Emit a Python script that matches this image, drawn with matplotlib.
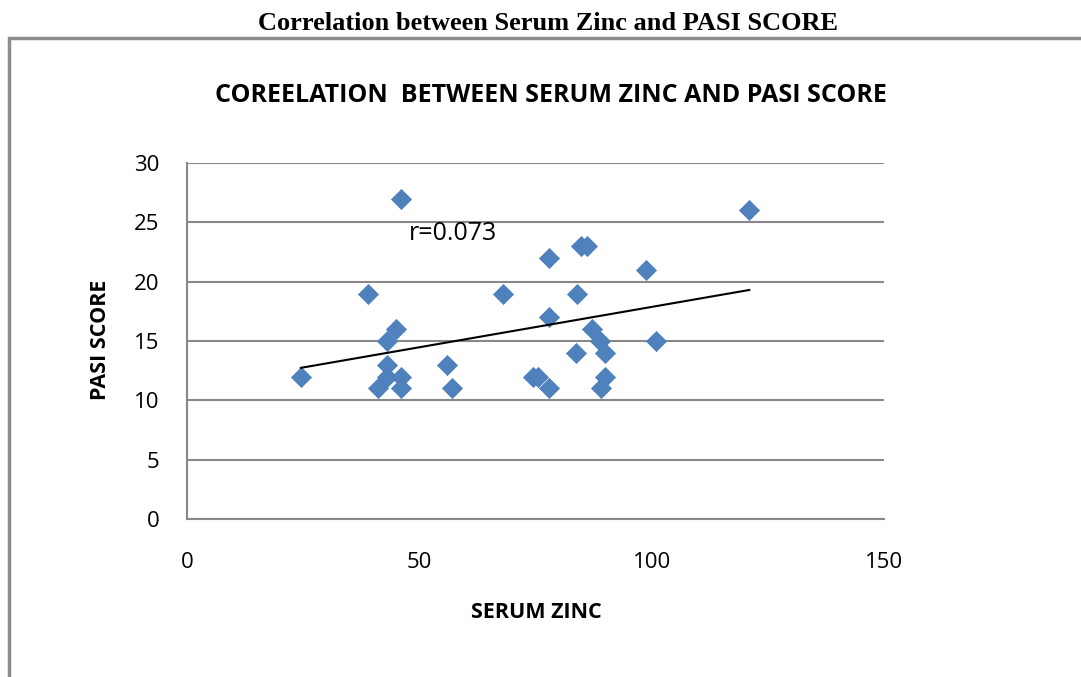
import numpy as np
import matplotlib
matplotlib.use("Agg")
import matplotlib.pyplot as plt
from matplotlib.patches import Rectangle

# Data
serum_zinc = [24.5, 39, 46, 41, 43, 45, 43, 43, 46, 46, 56, 57, 68, 74.5, 75.5,
              78, 78, 78, 83.7, 84, 84.7, 86, 87.2, 88.8, 90, 90, 89.2, 98.8, 101, 121]
pasi_score = [12, 19, 27, 11, 15, 16, 13, 12, 12, 11, 13, 11, 19, 12, 12,
              22, 17, 11, 14, 19, 23, 23, 16, 15, 14, 12, 11, 21, 15, 26]
x_ticks = [0, 50, 100, 150]
y_ticks = [0, 5, 10, 15, 20, 25, 30]

W, H = 1081, 677
fig = plt.figure(figsize=(W / 100, H / 100), dpi=100)
ax = fig.add_axes([187 / W, 1 - 519 / H, (884 - 187) / W, (519 - 163) / H])

grid_c = "#888888"
ax.scatter(serum_zinc, pasi_score, marker="D", s=105, color="#4f81bd",
           edgecolor="#4a7ebb", linewidth=0.5, zorder=3)

# linear trendline
coef = np.polyfit(serum_zinc, pasi_score, 1)
xs = np.array([min(serum_zinc), max(serum_zinc)])
ax.plot(xs, np.polyval(coef, xs), color="black", lw=1.5, zorder=4)

ax.set_xlim(0, 150)
ax.set_ylim(0, 30)
ax.set_xticks(x_ticks)
ax.set_yticks(y_ticks)
ax.tick_params(length=0, labelsize=16, colors="black")
ax.tick_params(axis="x", pad=24)
ax.tick_params(axis="y", pad=20)
for lbl in ax.get_xticklabels() + ax.get_yticklabels():
    lbl.set_fontfamily("Open Sans")
ax.yaxis.grid(True, color=grid_c, lw=1.5)
ax.set_axisbelow(True)
for s in ["top", "right"]:
    ax.spines[s].set_visible(False)
for s in ["left", "bottom"]:
    ax.spines[s].set_color(grid_c)
    ax.spines[s].set_linewidth(1.5)

ax.text(47.8, 24.1, "r=0.073", fontsize=18, family="Open Sans", va="center", ha="left")

fig.text(536 / W, 1 - 613 / H, "SERUM ZINC", ha="center", va="center",
         fontsize=15.5, fontweight="bold", family="Open Sans")
fig.text(100 / W, 1 - 340 / H, "PASI SCORE", ha="center", va="center", rotation=90,
         fontsize=15.5, fontweight="bold", family="Open Sans")
fig.text(551 / W, 1 - 95 / H, "COREELATION  BETWEEN SERUM ZINC AND PASI SCORE",
         ha="center", va="center", fontsize=18, fontweight="bold", family="Open Sans")
fig.text(548 / W, 1 - 24 / H, "Correlation between Serum Zinc and PASI SCORE",
         ha="center", va="center", fontsize=19, fontweight="bold", family="Liberation Serif")

fig.patches.append(Rectangle((8.5 / W, -0.1), 1.2, 1.1 - 37.5 / H,
                             transform=fig.transFigure, fill=False,
                             edgecolor="#8c8c8c", lw=2.5, clip_on=False))

fig.savefig("out.png", dpi=100)
